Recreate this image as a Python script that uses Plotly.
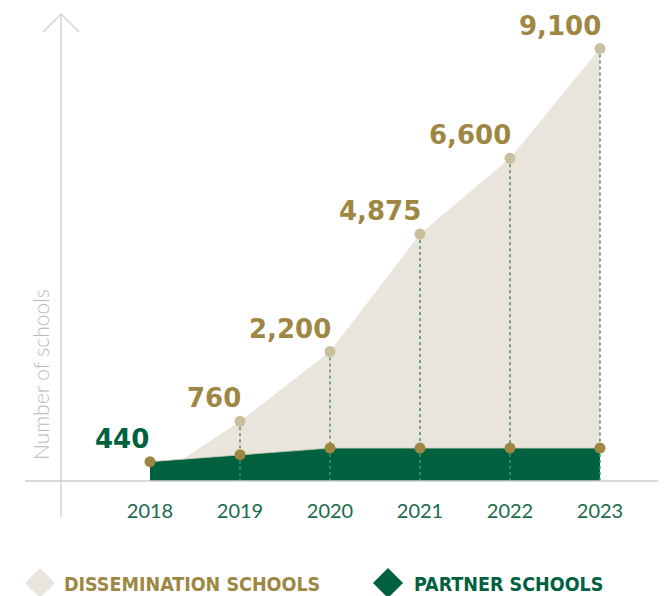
import plotly.graph_objects as go

# ---- data ----
years = [2018, 2019, 2020, 2021, 2022, 2023]
partner = [440, 600, 750, 750, 750, 750]
dissemination = [None, 760, 2200, 4875, 6600, 9100]
year_labels = ["2018", "2019", "2020", "2021", "2022", "2023"]

# ---- styles ----
OFF = 8                      # page body margin
W, H = 666 - OFF, 596 - OFF
PLOT_BOTTOM = 481 - OFF      # px inside figure
BEIGE_FILL = "#e9e5dc"
BEIGE_MARK = "#c9bf9d"
GOLD = "#9d8742"
GREEN = "#00613f"
GREEN_TXT = "#1a6a4c"
AXIS_COL = "#d4d4d4"
NUM_FONT = "DejaVu Sans, Lato, sans-serif"
LEG_FONT = "DejaVu Sans Condensed, Liberation Sans Narrow, sans-serif"


def px_x(wx):
    return (wx - OFF) / W


def px_y(wy):
    return (PLOT_BOTTOM - (wy - OFF)) / PLOT_BOTTOM


# stacked top of dissemination area (area starts from baseline in 2018)
top = [(p + d) if d is not None else 0 for p, d in zip(partner, dissemination)]

fig = go.Figure()

fig.add_trace(go.Scatter(x=years, y=top, mode="lines", fill="tozeroy",
                         fillcolor=BEIGE_FILL, line=dict(width=0, color=BEIGE_FILL),
                         hoverinfo="skip", showlegend=False))
fig.add_trace(go.Scatter(x=years, y=partner, mode="lines", fill="tozeroy",
                         fillcolor=GREEN, line=dict(width=0.8, color="#cfcab8"),
                         hoverinfo="skip", showlegend=False))

ux, uy, lx, ly = [], [], [], []
for yr, p, d, t in zip(years, partner, dissemination, top):
    if d is None:
        continue
    ux += [yr, yr, None]
    uy += [t, p, None]
    lx += [yr, yr, None]
    ly += [p, 0, None]
fig.add_trace(go.Scatter(x=ux, y=uy, mode="lines",
                         line=dict(color="#5a9360", width=1.6, dash="3px,3px"),
                         hoverinfo="skip", showlegend=False))
fig.add_trace(go.Scatter(x=lx, y=ly, mode="lines",
                         line=dict(color="#3c9c78", width=1.4, dash="3px,3px"),
                         hoverinfo="skip", showlegend=False))

dx = [yr for yr, d in zip(years, dissemination) if d is not None]
dy = [t for t, d in zip(top, dissemination) if d is not None]
fig.add_trace(go.Scatter(x=dx, y=dy, mode="markers",
                         marker=dict(color=BEIGE_MARK, size=11, line=dict(width=0)),
                         hoverinfo="skip", showlegend=False))
fig.add_trace(go.Scatter(x=years, y=partner, mode="markers",
                         marker=dict(color=GOLD, size=11, line=dict(width=0)),
                         hoverinfo="skip", showlegend=False))

annotations = []
for yr, d, t in zip(years, dissemination, top):
    if d is None:
        continue
    annotations.append(dict(x=yr, y=t, xref="x", yref="y", text=f"<b>{d:,}</b>",
                            showarrow=False, xanchor="right", yanchor="bottom",
                            xshift=3, yshift=6,
                            font=dict(family=NUM_FONT, size=26, color=GOLD)))
annotations.append(dict(x=years[0], y=partner[0], xref="x", yref="y",
                        text=f"<b>{partner[0]:,}</b>", showarrow=False,
                        xanchor="right", yanchor="bottom", xshift=1, yshift=6,
                        font=dict(family=NUM_FONT, size=26, color=GREEN)))

annotations.append(dict(x=px_x(40), y=px_y(375), xref="paper", yref="paper",
                        xanchor="center", yanchor="middle",
                        text="Number of schools", textangle=-90, showarrow=False,
                        font=dict(family="Lato, sans-serif", size=21, weight=300,
                                  color="#b9b9b9")))

annotations.append(dict(x=px_x(62), y=px_y(584), xref="paper", yref="paper",
                        text="<b>DISSEMINATION SCHOOLS</b>", showarrow=False,
                        xanchor="left", yanchor="middle",
                        font=dict(family=LEG_FONT, size=19.5, color=GOLD)))
annotations.append(dict(x=px_x(412), y=px_y(584), xref="paper", yref="paper",
                        text="<b>PARTNER SCHOOLS</b>", showarrow=False,
                        xanchor="left", yanchor="middle",
                        font=dict(family=LEG_FONT, size=19.5, color=GREEN)))

shapes = []
shapes.append(dict(type="line", xref="paper", yref="paper", x0=px_x(25), x1=1.0,
                   y0=0, y1=0, line=dict(color="#cccccc", width=1.5), layer="above"))
shapes.append(dict(type="line", xref="paper", yref="paper", x0=px_x(61), x1=px_x(61),
                   y0=px_y(517), y1=px_y(14), line=dict(color=AXIS_COL, width=1.5),
                   layer="below"))
shapes.append(dict(type="path", xref="paper", yref="paper",
                   path=f"M {px_x(43)} {px_y(32)} L {px_x(61)} {px_y(14)} L {px_x(79)} {px_y(32)}",
                   line=dict(color=AXIS_COL, width=1.5)))
for cx, col in [(40, BEIGE_FILL), (388, GREEN)]:
    shapes.append(dict(type="path", xref="paper", yref="paper",
                       xsizemode="pixel", ysizemode="pixel",
                       xanchor=px_x(cx), yanchor=px_y(583),
                       path="M 0 15 L 15 0 L 0 -15 L -15 0 Z",
                       fillcolor=col, line=dict(width=0)))

PX_PER_YEAR = 90
X2018 = 150 - OFF
x0 = years[0] - X2018 / PX_PER_YEAR
x1 = years[0] + (W - X2018) / PX_PER_YEAR
units_per_px = 22.78

fig.update_layout(
    width=W, height=H,
    margin=dict(l=0, r=0, t=0, b=H - PLOT_BOTTOM),
    paper_bgcolor="white", plot_bgcolor="white",
    xaxis=dict(range=[x0, x1], tickvals=years, ticktext=year_labels,
               showgrid=False, zeroline=False, showline=False,
               ticks="outside", ticklen=12, tickcolor="rgba(0,0,0,0)",
               tickfont=dict(family="Lato, sans-serif", size=20, color=GREEN_TXT)),
    yaxis=dict(range=[0, PLOT_BOTTOM * units_per_px], showgrid=False, zeroline=False,
               showline=False, showticklabels=False, ticks=""),
    annotations=annotations, shapes=shapes, showlegend=False,
)

fig.write_html("out.html")
